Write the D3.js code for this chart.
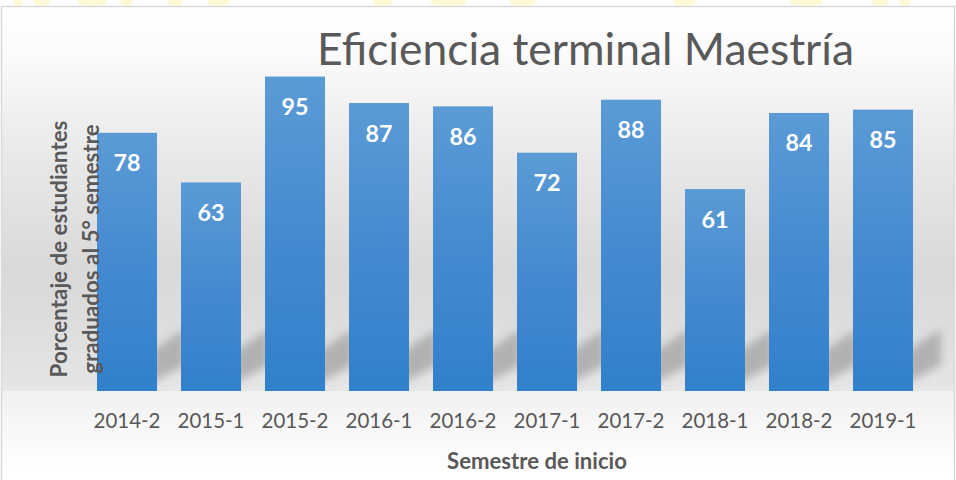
<!DOCTYPE html>
<html>
<head>
<meta charset="utf-8">
<title>Eficiencia terminal Maestría</title>
<style>
  body { margin: 0; background: #fff; }
  svg { display: block; font-family: Lato, "Open Sans", sans-serif; }
</style>
</head>
<body>
<svg id="chart" width="956" height="480"></svg>
<script src="https://d3js.org/d3.v7.min.js"></script>
<script>
  var semestres = ['2014-2', '2015-1', '2015-2', '2016-1', '2016-2', '2017-1', '2017-2', '2018-1', '2018-2', '2019-1'];
  var eficiencia = [78, 63, 95, 87, 86, 72, 88, 61, 84, 85];
  var titulo = 'Eficiencia terminal Maestría';
  var tituloEjeY = ['Porcentaje de estudiantes', 'graduados al 5° semestre'];
  var tituloEjeX = 'Semestre de inicio';
  var yDomain = [0, 100];

  // faint yellow watermark peeking above the chart frame
  var manchas = [[13, 23], [33, 50], [77, 107], [120, 133], [167, 183], [207, 230], [373, 393], [430, 467],
                 [509, 536], [673, 696], [789, 823], [871, 889], [899, 911]];

  var svg = d3.select('#chart');
  var W = 956, H = 480;
  var plot = { left: 85, right: 925, top: 60, bottom: 391 };

  var defs = svg.append('defs');

  var bg = defs.append('linearGradient').attr('id', 'bg')
    .attr('gradientUnits', 'userSpaceOnUse').attr('x1', 0).attr('x2', 0).attr('y1', 6).attr('y2', plot.bottom);
  [[0, '#ffffff'], [0.12, '#fbfbfb'], [0.35, '#ebebeb'], [0.68, '#d9d9d9'], [0.8, '#dcdcdc'], [0.97, '#e4e4e4'], [1, '#e6e6e6']]
    .forEach(function(s) { bg.append('stop').attr('offset', s[0]).attr('stop-color', s[1]); });

  var floor = defs.append('linearGradient').attr('id', 'floor')
    .attr('gradientUnits', 'userSpaceOnUse').attr('x1', 0).attr('x2', 0).attr('y1', plot.bottom).attr('y2', 472);
  floor.append('stop').attr('offset', 0).attr('stop-color', '#f1f1f1');
  floor.append('stop').attr('offset', 1).attr('stop-color', '#ffffff');

  var barGrad = defs.append('linearGradient').attr('id', 'barGrad')
    .attr('x1', 0).attr('x2', 0).attr('y1', 0).attr('y2', 1);
  barGrad.append('stop').attr('offset', 0).attr('stop-color', '#5b9bd5');
  barGrad.append('stop').attr('offset', 0.55).attr('stop-color', '#4389d0');
  barGrad.append('stop').attr('offset', 1).attr('stop-color', '#3180cb');

  defs.append('filter').attr('id', 'blur').attr('x', '-50%').attr('y', '-50%').attr('width', '200%').attr('height', '200%')
    .append('feGaussianBlur').attr('stdDeviation', 4);

  svg.selectAll('ellipse.mancha')
    .data(manchas)
    .enter().append('ellipse')
    .attr('class', 'mancha')
    .attr('cx', function(d) { return (d[0] + d[1]) / 2; })
    .attr('cy', 2)
    .attr('rx', function(d) { return (d[1] - d[0]) / 2; })
    .attr('ry', 4)
    .attr('fill', '#fff6c4')
    .attr('opacity', 0.7);

  svg.append('rect').attr('x', 1.5).attr('y', 6.5).attr('width', W - 3).attr('height', plot.bottom - 6.5).attr('fill', 'url(#bg)');
  svg.append('rect').attr('x', 1.5).attr('y', plot.bottom).attr('width', W - 3).attr('height', H - plot.bottom).attr('fill', 'url(#floor)');
  svg.append('rect').attr('x', 1.5).attr('y', 6.5).attr('width', W - 3).attr('height', H + 10)
    .attr('fill', 'none').attr('stroke', '#d9d9d9').attr('stroke-width', 1.5);

  var x = d3.scaleBand()
    .domain(semestres)
    .range([plot.left, plot.right])
    .paddingInner(24 / 84)
    .paddingOuter(12 / 84);

  var y = d3.scaleLinear()
    .domain(yDomain)
    .range([plot.bottom, plot.top]);

  var gap = x.step() - x.bandwidth();

  // perspective shadows seen between the bars
  svg.append('g')
    .selectAll('path')
    .data(semestres)
    .enter().append('path')
    .attr('d', function(d) {
      var x0 = x(d) + x.bandwidth() - 6, x1 = x(d) + x.bandwidth() + gap + 4, b = plot.bottom;
      return 'M' + x0 + ',' + (b - 8) + 'L' + x0 + ',' + (b - 40) + 'L' + x1 + ',' + (b - 62) + 'L' + x1 + ',' + (b - 26) + 'Z';
    })
    .attr('fill', '#a6a6a6')
    .attr('opacity', 0.8)
    .attr('filter', 'url(#blur)');

  svg.append('g')
    .selectAll('rect')
    .data(eficiencia)
    .enter().append('rect')
    .attr('x', function(d, i) { return x(semestres[i]); })
    .attr('y', function(d) { return y(d); })
    .attr('width', x.bandwidth())
    .attr('height', function(d) { return y(0) - y(d); })
    .attr('fill', 'url(#barGrad)');

  function fitFont(sel, width) {
    var fs = +sel.attr('font-size');
    var w = sel.node().getComputedTextLength();
    var size = fs * width / w;
    sel.attr('font-size', size);
    return size;
  }

  var labels = svg.append('g')
    .selectAll('text')
    .data(eficiencia)
    .enter().append('text')
    .attr('x', function(d, i) { return x(semestres[i]) + x.bandwidth() / 2; })
    .attr('y', function(d) { return y(d) + 38.5; })
    .attr('text-anchor', 'middle')
    .attr('font-weight', 700)
    .attr('font-size', 24)
    .attr('fill', '#ffffff')
    .text(function(d) { return d; });
  var labelSize = fitFont(d3.select(labels.nodes()[0]), 27);
  labels.attr('font-size', labelSize);

  var xAxis = svg.append('g')
    .attr('transform', 'translate(0,' + plot.bottom + ')')
    .call(d3.axisBottom(x).tickSize(0));
  xAxis.select('.domain').remove();
  var ticks = xAxis.selectAll('text')
    .attr('dy', null)
    .attr('y', 37)
    .attr('fill', '#595959')
    .attr('font-family', 'Lato, "Open Sans", sans-serif')
    .attr('font-size', 20);
  var tickSize = fitFont(d3.select(ticks.nodes()[0]), 67);
  ticks.attr('font-size', tickSize);

  var title = svg.append('text')
    .attr('x', 585.5)
    .attr('y', 65)
    .attr('text-anchor', 'middle')
    .attr('font-weight', 400)
    .attr('font-size', 38)
    .attr('fill', '#595959')
    .text(titulo);
  fitFont(title, 537);

  var xTitle = svg.append('text')
    .attr('x', 537)
    .attr('y', 469)
    .attr('text-anchor', 'middle')
    .attr('font-weight', 700)
    .attr('font-size', 20)
    .attr('fill', '#595959')
    .text(tituloEjeX);
  fitFont(xTitle, 180);

  var yTitle = svg.append('g')
    .selectAll('text')
    .data(tituloEjeY)
    .enter().append('text')
    .attr('transform', function(d, i) { return 'translate(' + (67 + i * 32) + ',249) rotate(-90)'; })
    .attr('text-anchor', 'middle')
    .attr('font-weight', 700)
    .attr('font-size', 19)
    .attr('fill', '#595959')
    .text(function(d) { return d; });
  var ySize = fitFont(d3.select(yTitle.nodes()[0]), 257);
  yTitle.attr('font-size', ySize);
</script>
</body>
</html>
